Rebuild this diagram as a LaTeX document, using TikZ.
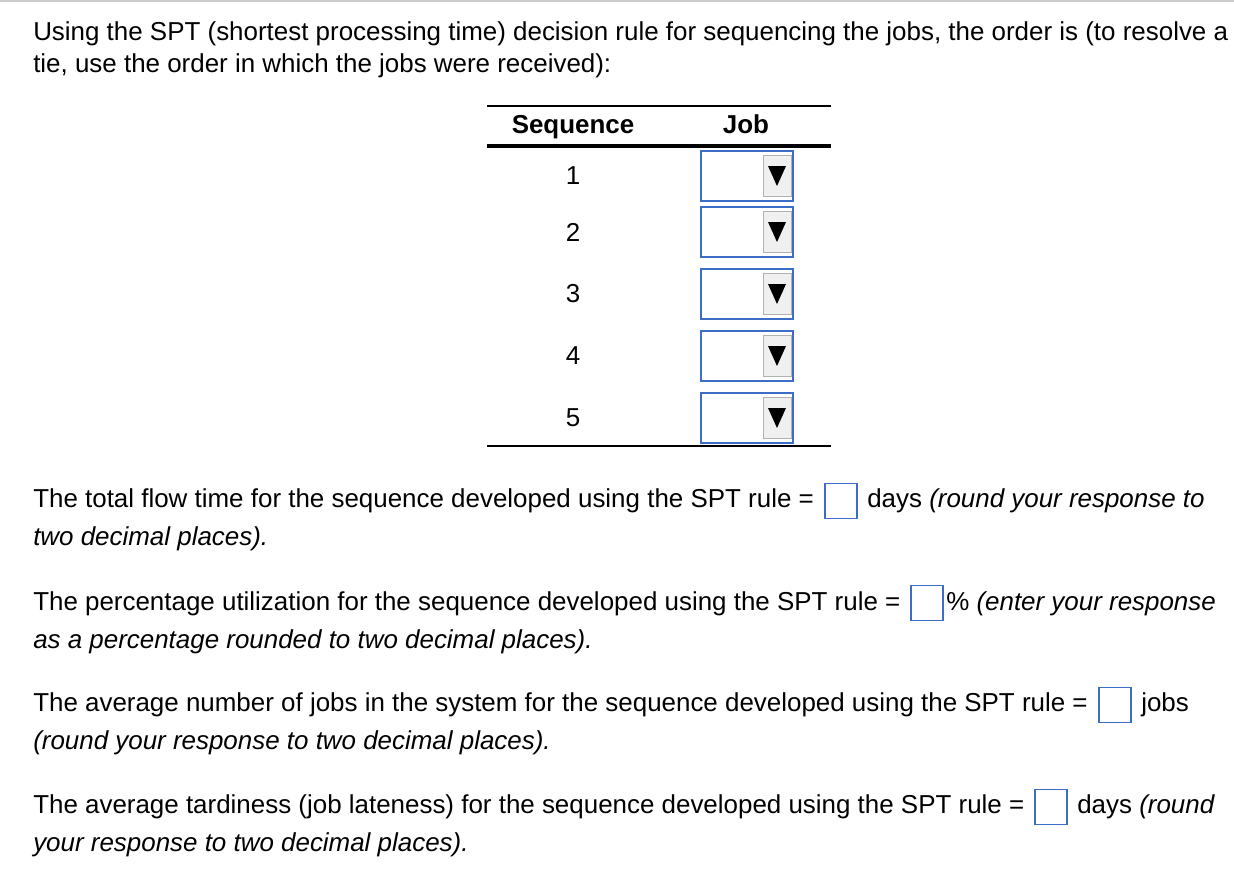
\documentclass[tikz,border=0pt]{standalone}
\usepackage{fontspec}
\setmainfont{Liberation Sans}
\definecolor{boxblue}{RGB}{60,110,200}
\begin{document}
\begin{tikzpicture}[x=0.75pt,y=-0.75pt,
  txt/.style={anchor=base west,inner sep=0pt,font=\fontsize{19.45pt}{22pt}\selectfont},
  hdr/.style={anchor=base,inner sep=0pt,font=\fontsize{19.45pt}{22pt}\selectfont\bfseries},
  num/.style={anchor=center,inner sep=0pt,font=\fontsize{19.45pt}{22pt}\selectfont},
  ddbox/.style={draw=boxblue,line width=1.5pt,minimum width=69pt,minimum height=37.5pt,inner sep=0pt},
  ansbox/.style={draw=boxblue,line width=1.2pt,minimum width=24pt,minimum height=26pt,inner sep=0pt},
  btn/.style={draw=gray!60,fill=gray!12,minimum width=21pt,minimum height=31pt,inner sep=0pt}]
\useasboundingbox (0,0) rectangle (1234,878);
\draw[gray!40,line width=1pt] (0,1) -- (1234,1);
\node[txt] (l1) at (33,40) {Using the SPT (shortest processing time) decision rule for sequencing the jobs, the order is (to resolve a};
\node[txt] (l2) at (33,72) {tie, use the order in which the jobs were received):};
\draw[line width=1.5pt] (487,106) -- (831,106);
\node[hdr] (hs) at (573,133) {Sequence};
\node[hdr] (hj) at (746,133) {Job};
\draw[line width=3pt] (487,146) -- (831,146);
\foreach \i/\y in {1/176,2/232,3/294,4/356,5/418}{
  \node[num] (s\i) at (573,\y) {\i};
  \node[ddbox] (d\i) at (746.5,\y) {};
  \node[btn] (b\i) at (777,\y) {};
  \fill (b\i.center) ++(-9,-10) -- ++(18,0) -- ++(-9,20) -- cycle;
}
\draw[line width=1.5pt] (487,446) -- (831,446);
% para 1
\node[txt] (p1a) at (33,507) {The total flow time for the sequence developed using the SPT rule =};
\node[ansbox] (a1) at (841,501) {};
\node[txt] (p1b) at (867,507) {days \itshape(round your response to};
\node[txt] (p1c) at (33,545) {\itshape two decimal places).};
% para 2
\node[txt] (p2a) at (33,610) {The percentage utilization for the sequence developed using the SPT rule =};
\node[ansbox] (a2) at (927,603) {};
\node[txt] (p2b) at (946,610) {\% \itshape(enter your response};
\node[txt] (p2c) at (33,648) {\itshape as a percentage rounded to two decimal places).};
% para 3
\node[txt] (p3a) at (33,711) {The average number of jobs in the system for the sequence developed using the SPT rule =};
\node[ansbox] (a3) at (1115,705) {};
\node[txt] (p3b) at (1141,711) {jobs};
\node[txt] (p3c) at (33,749) {\itshape(round your response to two decimal places).};
% para 4
\node[txt] (p4a) at (33,813) {The average tardiness (job lateness) for the sequence developed using the SPT rule =};
\node[ansbox] (a4) at (1051,807) {};
\node[txt] (p4b) at (1077,813) {days \itshape(round};
\node[txt] (p4c) at (33,851) {\itshape your response to two decimal places).};
\end{tikzpicture}
\end{document}
